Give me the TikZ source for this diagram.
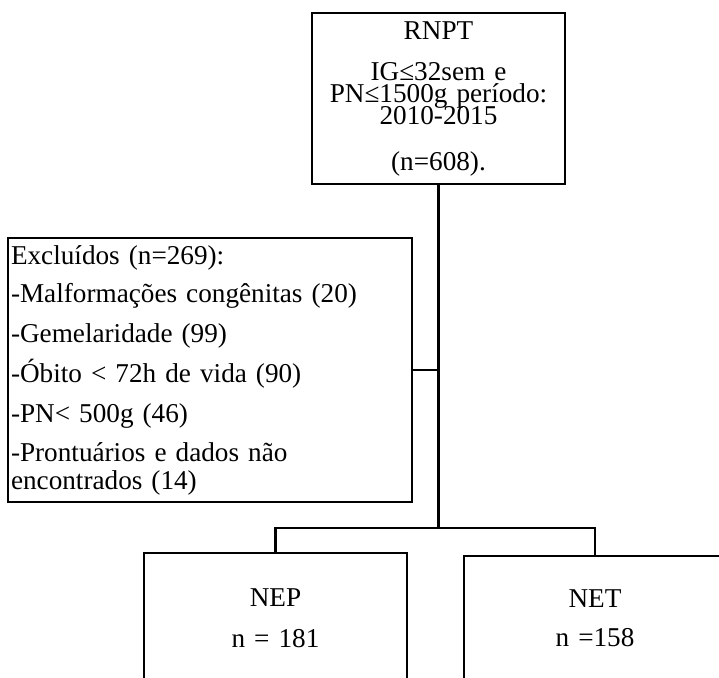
\documentclass[tikz,border=0pt]{standalone}
\usepackage{fontspec}
\setmainfont{Liberation Serif}
\newcommand\boxfont{\fontsize{27.2}{22}\selectfont\lineskiplimit=-50pt}
\begin{document}
\begin{tikzpicture}[x=1pt,y=-1pt]
    \tikzstyle{box} = [draw,line width=2.2pt,inner sep=0pt,align=center,font=\boxfont]
    \tikzstyle{link} = [line width=2.2pt]
    \useasboundingbox (0,0) rectangle (719,677);
    \clip (0,0) rectangle (719,677);
        \node[box,minimum width=253pt,minimum height=171pt,text width=247pt] (rnpt) at (438.5,98.5) {RNPT\\[19pt] IG≤32sem e\\ PN≤1500g período:\\ 2010-2015\\[24pt] (n=608).};
        \node[box,minimum width=404pt,minimum height=264pt,text width=398pt,align=left] (excl) at (210,370) {Excluídos (n=269):\\[16pt] -Malformações congênitas (20)\\[18pt] -Gemelaridade (99)\\[18pt] -Óbito < 72h de vida (90)\\[18pt] -PN< 500g (46)\\[17pt] -Prontuários e dados não\\[6pt] encontrados (14)};
        \node[box,minimum width=263pt,minimum height=130pt,text width=257pt] (nep) at (275.5,618) {NEP\\[19pt] n = 181};
        \node[box,minimum width=262pt,minimum height=124pt,text width=256pt] (net) at (595,618) {NET\\[17pt] n =158};
        \coordinate (split) at (rnpt.south |- 0,528);
        \coordinate (join) at (rnpt.south |- excl.east);
        \draw[link] (rnpt.south) -- (split);
        \draw[link] (excl.east) -- (join);
        \draw[link] (nep.north) |- (split) -| (net.north);
\end{tikzpicture}
\end{document}
